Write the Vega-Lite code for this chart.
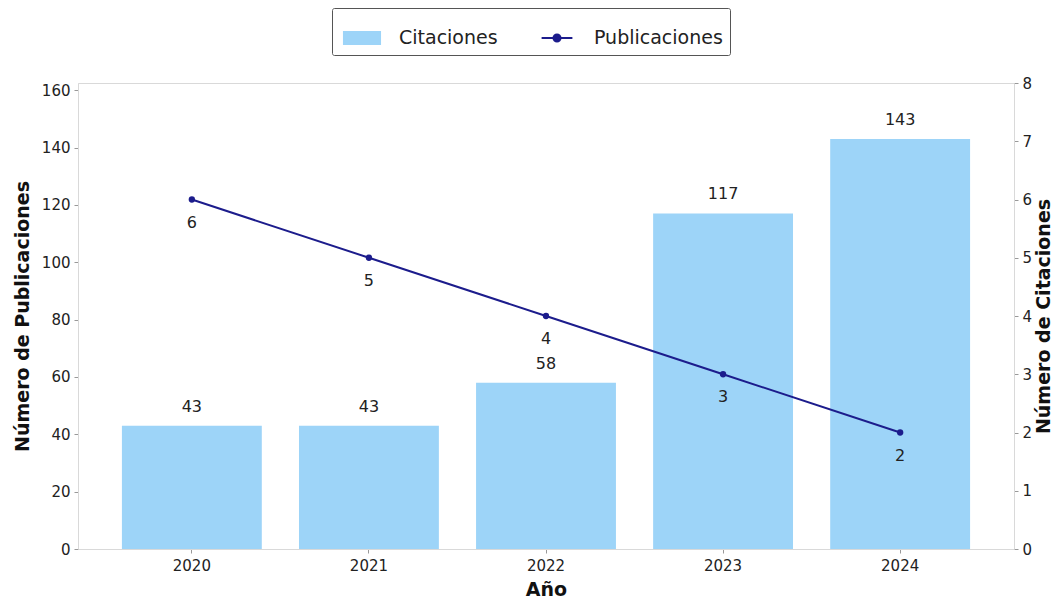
{
  "$schema": "https://vega.github.io/schema/vega-lite/v6.json",
  "width": 936,
  "height": 466,
  "autosize": {"type": "none"},
  "padding": {"left": 78, "top": 83, "right": 43, "bottom": 51},
  "background": "white",
  "config": {
    "font": "DejaVu Sans",
    "view": {"stroke": "#d9d9d9", "strokeWidth": 1},
    "axis": {
      "labelFont": "DejaVu Sans",
      "labelFontSize": 15,
      "labelColor": "#222222",
      "titleFont": "DejaVu Sans",
      "titleFontSize": 19,
      "titleFontWeight": "bold",
      "titleColor": "#111111",
      "domainColor": "#d9d9d9",
      "tickColor": "#999999",
      "tickSize": 4,
      "labelPadding": 4,
      "grid": false
    }
  },
  "data": {
    "values": [
      {"year": "2020", "cit": 43, "pub": 6},
      {"year": "2021", "cit": 43, "pub": 5},
      {"year": "2022", "cit": 58, "pub": 4},
      {"year": "2023", "cit": 117, "pub": 3},
      {"year": "2024", "cit": 143, "pub": 2}
    ]
  },
  "encoding": {
    "x": {
      "field": "year",
      "type": "ordinal",
      "scale": {"paddingInner": 0.21, "paddingOuter": 0.248},
      "axis": {"title": "Año", "labelAngle": 0, "titlePadding": 7, "labelPadding": 5}
    }
  },
  "layer": [
    {
      "encoding": {
        "y": {
          "field": "cit",
          "type": "quantitative",
          "scale": {"domain": [0, 162.5], "nice": false},
          "axis": {"title": "Número de Publicaciones", "values": [0, 20, 40, 60, 80, 100, 120, 140, 160], "titlePadding": 9}
        }
      },
      "layer": [
        {
          "mark": {"type": "bar", "color": "#9dd4f8"},
          "encoding": {
            "color": {
              "datum": "Citaciones",
              "type": "nominal",
              "scale": {"domain": ["Citaciones", "Publicaciones"], "range": ["#9dd4f8", "#1c1c8c"]},
              "legend": {
                "title": null,
                "orient": "none",
                "legendX": 254,
                "legendY": -75,
                "direction": "horizontal",
                "strokeColor": "#555555",
                "cornerRadius": 2,
                "padding": 7,
                "labelFont": "DejaVu Sans",
                "labelFontSize": 19,
                "labelColor": "#222222",
                "symbolSize": 1936,
                "columnPadding": 36,
                "labelOffset": 14,
                "symbolStrokeWidth": 2,
                "encode": {
                  "symbols": {
                    "update": {
                      "shape": {"signal": "datum.label == 'Citaciones' ? 'M-0.82,-0.27H0.82V0.27H-0.82Z' : 'M-0.7,0H0.7M-0.16,0A0.16,0.16 0 1,1 0.16,0A0.16,0.16 0 1,1 -0.16,0Z'"},
                      "fill": {"signal": "datum.label == 'Citaciones' ? '#9dd4f8' : '#1c1c8c'"},
                      "stroke": {"signal": "datum.label == 'Citaciones' ? 'transparent' : '#1c1c8c'"},
                      "strokeWidth": {"value": 2},
                      "opacity": {"value": 1}
                    }
                  }
                }
              }
            }
          }
        },
        {
          "mark": {"type": "text", "baseline": "bottom", "dy": -11, "fontSize": 16, "color": "#222222"},
          "encoding": {"text": {"field": "cit", "type": "quantitative"}}
        }
      ]
    },
    {
      "encoding": {
        "y": {
          "field": "pub",
          "type": "quantitative",
          "scale": {"domain": [0, 8], "nice": false},
          "axis": {"title": "Número de Citaciones", "orient": "right", "titleAngle": 270, "titleBaseline": "top", "values": [0, 1, 2, 3, 4, 5, 6, 7, 8], "titlePadding": 3}
        }
      },
      "layer": [
        {
          "mark": {"type": "line", "color": "#1c1c8c", "strokeWidth": 2, "point": {"filled": true, "size": 40, "color": "#1c1c8c"}},
          "encoding": {
            "color": {"datum": "Publicaciones", "type": "nominal"}
          }
        },
        {
          "mark": {"type": "text", "baseline": "top", "dy": 15, "fontSize": 16, "color": "#222222"},
          "encoding": {"text": {"field": "pub", "type": "quantitative"}}
        }
      ]
    }
  ],
  "resolve": {"scale": {"y": "independent"}}
}
